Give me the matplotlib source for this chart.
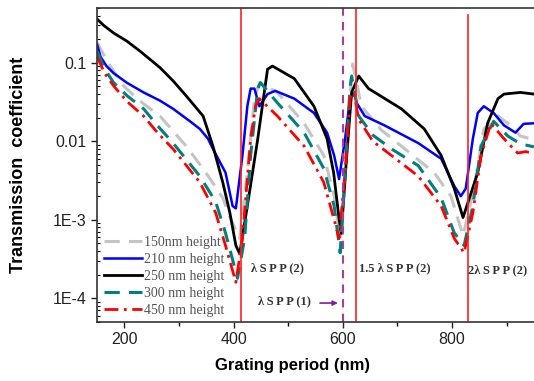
import matplotlib
matplotlib.use("Agg")
import matplotlib.pyplot as plt
from matplotlib.ticker import FixedLocator, LogLocator, NullFormatter

# grating period (nm) and transmission for each grating height
x_150 = [150, 170, 198, 230, 265, 313, 349, 380, 395, 411, 425, 438, 447, 480, 529, 565, 584,
         595, 607, 616, 618, 634, 670, 707, 767, 798, 820, 840, 858, 884, 902, 925, 950]
t_150 = [0.18, 0.10, 0.051, 0.032, 0.021, 0.0087, 0.0040, 0.0019, 0.0010, 0.00058, 0.0040,
         0.035, 0.056, 0.042, 0.017, 0.0066, 0.0020, 0.00058, 0.0066, 0.074, 0.097, 0.028,
         0.014, 0.0087, 0.0040, 0.0020, 0.00063, 0.0025, 0.0144, 0.021, 0.017, 0.0117, 0.0105]

x_210 = [150, 156, 167, 180, 204, 235, 265, 289, 320, 338, 353, 362, 385, 398, 404, 416, 425,
         431, 438, 447, 462, 476, 511, 547, 571, 584, 593, 604, 613, 622, 625, 640, 676, 738,
         780, 804, 816, 825, 838, 847, 858, 876, 895, 916, 931, 950]
t_210 = [0.17, 0.12, 0.091, 0.074, 0.056, 0.042, 0.033, 0.026, 0.018, 0.0144, 0.0108, 0.0080,
         0.0040, 0.0015, 0.0014, 0.0066, 0.028, 0.047, 0.047, 0.028, 0.040, 0.044, 0.035,
         0.023, 0.0129, 0.0066, 0.0033, 0.0108, 0.035, 0.042, 0.031, 0.021, 0.016, 0.0095,
         0.0060, 0.0027, 0.0020, 0.0025, 0.0108, 0.023, 0.028, 0.023, 0.016, 0.0129, 0.0167,
         0.017]

x_250 = [150, 162, 180, 204, 229, 265, 289, 313, 344, 362, 380, 393, 404, 411, 425, 444, 462,
         471, 511, 547, 571, 583, 593, 597, 607, 616, 629, 647, 707, 749, 780, 804, 820, 847,
         865, 884, 895, 925, 950]
t_250 = [0.36, 0.30, 0.24, 0.19, 0.14, 0.087, 0.059, 0.038, 0.021, 0.0087, 0.0030, 0.00123,
         0.00047, 0.00037, 0.0015, 0.0107, 0.083, 0.091, 0.063, 0.028, 0.0108, 0.0040, 0.00103,
         0.00067, 0.0066, 0.042, 0.068, 0.047, 0.026, 0.0144, 0.0066, 0.0025, 0.00107, 0.0040,
         0.017, 0.035, 0.040, 0.042, 0.040]

x_300 = [150, 163, 180, 205, 235, 260, 289, 338, 367, 385, 407, 420, 431, 444, 449, 480, 529,
         565, 584, 595, 604, 613, 616, 629, 655, 689, 738, 780, 804, 822, 838, 853, 876, 902,
         925, 950]
t_300 = [0.14, 0.085, 0.056, 0.038, 0.026, 0.016, 0.0095, 0.0036, 0.0017, 0.00068, 0.00018,
         0.00058, 0.0066, 0.047, 0.056, 0.031, 0.0129, 0.0045, 0.0015, 0.00038, 0.0040, 0.047,
         0.068, 0.021, 0.012, 0.0080, 0.0049, 0.0019, 0.00068, 0.00047, 0.0015, 0.0087, 0.018,
         0.0117, 0.0093, 0.0085]

x_450 = [150, 163, 180, 205, 235, 260, 289, 338, 367, 385, 404, 416, 431, 440, 447, 480, 529,
         565, 584, 593, 604, 613, 620, 629, 655, 689, 738, 780, 804, 822, 838, 853, 871, 895,
         920, 935, 950]
t_450 = [0.12, 0.075, 0.051, 0.032, 0.021, 0.013, 0.0080, 0.0030, 0.00123, 0.00047, 0.00016,
         0.00058, 0.0108, 0.028, 0.035, 0.021, 0.0087, 0.0030, 0.0010, 0.00058, 0.0040, 0.035,
         0.042, 0.019, 0.010, 0.0066, 0.0036, 0.0015, 0.00058, 0.00038, 0.00123, 0.0066, 0.017,
         0.0108, 0.0071, 0.0074, 0.0070]

labels = ["150nm height", "210 nm height", "250 nm height", "300 nm height", "450 nm height"]
spp_lines = [413, 624, 829]
spp1_line = 600

fig = plt.figure(figsize=(5.34, 3.81), dpi=100)
ax = fig.add_axes([0.182, 0.155, 0.818, 0.824])

ax.plot(x_150, t_150, color="#c4c4c4", lw=2.2, ls=(0, (5, 3)), label=labels[0])
ax.plot(x_210, t_210, color="#0000ff", lw=1.8, label=labels[1])
ax.plot(x_250, t_250, color="#000000", lw=2.0, label=labels[2])
ax.plot(x_300, t_300, color="#008080", lw=2.2, ls=(0, (5, 3)), label=labels[3])
ax.plot(x_450, t_450, color="#ff0000", lw=2.0, ls=(0, (5, 2, 1, 2)), label=labels[4])

for i, xv in enumerate(spp_lines):
    ax.axvline(xv, ymin=0, ymax=0.978 if i == 2 else 1, color="#ff2020", lw=1.2)
ax.axvline(spp1_line, color="#a040a0", lw=1.5, ls=(0, (4, 3)))

ax.set_yscale("log")
ax.set_xlim(150, 950)
ax.set_ylim(5e-5, 0.5)

ax.set_yticks([1e-4, 1e-3, 1e-2, 1e-1])
ax.set_yticklabels(["1E-4", "1E-3", "0.01", "0.1"])
ax.yaxis.set_minor_locator(LogLocator(base=10, subs=range(2, 10)))
ax.yaxis.set_minor_formatter(NullFormatter())
ax.set_xticks([200, 400, 600, 800])
ax.xaxis.set_minor_locator(FixedLocator([300, 500, 700, 900]))

ax.tick_params(axis="both", which="major", direction="out", length=4, width=1,
               labelsize=11.5, colors="#222222")
ax.tick_params(axis="y", which="minor", direction="in", length=2.5, width=0.8)
ax.tick_params(axis="x", which="minor", direction="out", length=3, width=1)
for lab in ax.get_xticklabels() + ax.get_yticklabels():
    lab.set_family("Liberation Sans")

for s in ["left", "bottom", "top"]:
    ax.spines[s].set_color("#333333")
    ax.spines[s].set_linewidth(1.2)
ax.spines["right"].set_visible(False)

ax.set_xlabel("Grating period (nm)", fontsize=12, fontweight="bold",
              family="Liberation Sans")
ax.xaxis.set_label_coords(0.446, -0.115)
ax.set_ylabel("Transmission  coefficient", fontsize=13, fontweight="bold",
              family="Liberation Sans")
ax.yaxis.set_label_coords(-0.16, 0.5)

serif = dict(family="Liberation Serif", fontweight="bold", fontsize=9, color="#333333")
ax.text(431, 2.4e-4, "λ\u2009S\u2009P\u2009P\u2009(2)", **serif, va="center")
ax.text(444, 9.3e-5, "λ\u2009S\u2009P\u2009P\u2009(1)", **serif, va="center")
ax.text(629, 2.4e-4, "1.5 λ\u2009S\u2009P\u2009P\u2009(2)", **serif, va="center")
ax.text(829, 2.3e-4, "2λ\u2009S\u2009P\u2009P\u2009(2)", **serif, va="center")
ax.annotate("", xy=(596, 8.7e-5), xytext=(553, 8.7e-5),
            arrowprops=dict(arrowstyle="-|>", color="#8020a0", lw=1.2, mutation_scale=7))

leg = ax.legend(loc="lower left", bbox_to_anchor=(-0.012, -0.025), frameon=False,
                handlelength=2.7, handletextpad=0.15, labelspacing=0.3,
                prop=dict(family="Liberation Serif", size=10))
for t in leg.get_texts():
    t.set_color("#555555")

fig.savefig("out.png", dpi=100)
